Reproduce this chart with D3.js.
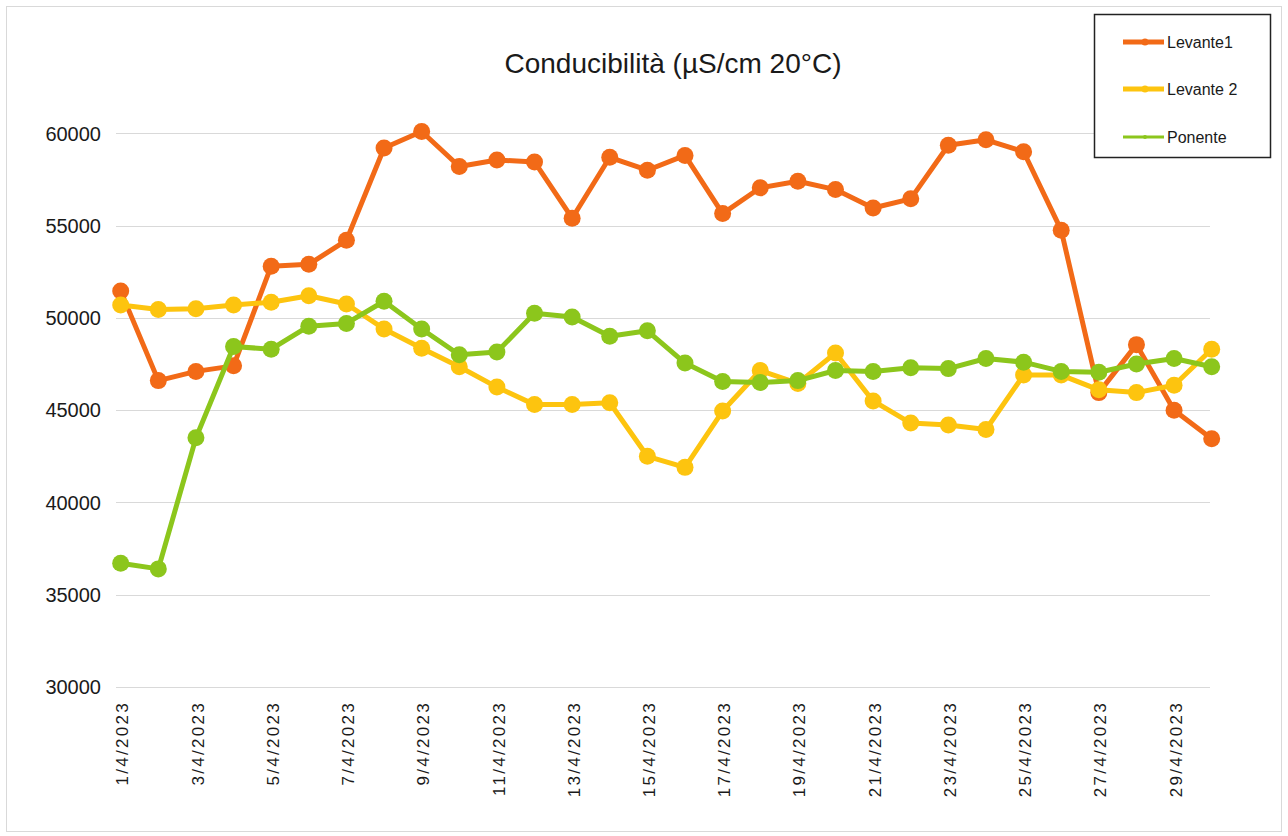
<!DOCTYPE html>
<html>
<head>
<meta charset="utf-8">
<script src="https://cdn.jsdelivr.net/npm/d3@7"></script>
<style>
  body { margin: 0; background: #fff; }
  text { font-family: "Liberation Sans", Arial, sans-serif; fill: #1a1a1a; }
</style>
</head>
<body>
<div id="myDiv"></div>
<script>
// data
var dates = ["1/4/2023","2/4/2023","3/4/2023","4/4/2023","5/4/2023","6/4/2023","7/4/2023","8/4/2023",
  "9/4/2023","10/4/2023","11/4/2023","12/4/2023","13/4/2023","14/4/2023","15/4/2023","16/4/2023",
  "17/4/2023","18/4/2023","19/4/2023","20/4/2023","21/4/2023","22/4/2023","23/4/2023","24/4/2023",
  "25/4/2023","26/4/2023","27/4/2023","28/4/2023","29/4/2023","30/4/2023"];

var levante1 = [51450, 46600, 47100, 47400, 52800, 52900, 54200, 59200, 60100, 58200,
  58550, 58450, 55400, 58700, 58000, 58800, 55650, 57050, 57400, 56950,
  55950, 56450, 59350, 59650, 59000, 54750, 45950, 48550, 45000, 43450];

var levante2 = [50700, 50450, 50500, 50700, 50850, 51200, 50750, 49400, 48350, 47350,
  46250, 45300, 45300, 45400, 42500, 41900, 44950, 47150, 46450, 48100,
  45500, 44300, 44200, 43950, 46900, 46900, 46100, 45950, 46350, 48300];

var ponente = [36700, 36400, 43500, 48450, 48300, 49550, 49700, 50900, 49400, 48000,
  48150, 50250, 50050, 49000, 49300, 47550, 46550, 46500, 46600, 47150,
  47100, 47300, 47250, 47800, 47600, 47100, 47050, 47500, 47800, 47350];

var seriesNames = ["Levante1", "Levante 2", "Ponente"];
var yTicks = [30000, 35000, 40000, 45000, 50000, 55000, 60000];

var colors = ["#f26a17", "#fdc40f", "#8cc61c"];

var width = 1288;
var height = 836;

var svg = d3.select("#myDiv")
    .append("svg")
    .attr("width", width)
    .attr("height", height);

// outer frame
svg.append("rect")
    .attr("x", 6.5).attr("y", 6.5)
    .attr("width", 1275).attr("height", 825)
    .attr("fill", "#fff")
    .attr("stroke", "#d9d9d9");

var x = d3.scalePoint()
    .domain(dates)
    .range([120.7, 1211.7]);

var y = d3.scaleLinear()
    .domain([30000, 60000])
    .range([687, 133.3]);

// gridlines
svg.append("g")
    .selectAll("line")
    .data(yTicks)
    .enter()
    .append("line")
    .attr("x1", 116)
    .attr("x2", 1210)
    .attr("y1", d => Math.round(y(d)) + 0.5)
    .attr("y2", d => Math.round(y(d)) + 0.5)
    .attr("stroke", "#d9d9d9")
    .attr("stroke-width", 1.2);

// y labels
svg.append("g")
    .selectAll("text")
    .data(yTicks)
    .enter()
    .append("text")
    .attr("x", 101)
    .attr("y", d => y(d))
    .attr("dy", "0.36em")
    .attr("text-anchor", "end")
    .style("font-size", "20px")
    .text(d => d);

// x labels, every other day
svg.append("g")
    .selectAll("text")
    .data(dates.filter((d, i) => i % 2 === 0))
    .enter()
    .append("text")
    .attr("transform", d => "translate(" + (x(d) + 1.5) + ",701) rotate(-90)")
    .attr("dy", "0.36em")
    .attr("text-anchor", "end")
    .style("font-size", "17px")
    .style("letter-spacing", "2.3px")
    .text(d => d);

// title
svg.append("text")
    .attr("x", 673)
    .attr("y", 73)
    .attr("text-anchor", "middle")
    .style("font-size", "28px")
    .text("Conducibilità (µS/cm 20°C)");

// lines + markers
var allSeries = [levante1, levante2, ponente];

var line = d3.line()
    .x((d, i) => x(dates[i]))
    .y(d => y(d));

allSeries.forEach(function(values, k) {
    var g = svg.append("g");
    g.append("path")
        .datum(values)
        .attr("d", line)
        .attr("fill", "none")
        .attr("stroke", colors[k])
        .attr("stroke-width", 5)
        .attr("stroke-linejoin", "round");
    g.selectAll("circle")
        .data(values)
        .enter()
        .append("circle")
        .attr("cx", (d, i) => x(dates[i]))
        .attr("cy", d => y(d))
        .attr("r", 8.5)
        .attr("fill", colors[k]);
});

// legend
var legend = svg.append("g");
legend.append("rect")
    .attr("x", 1094.5).attr("y", 14.5)
    .attr("width", 176).attr("height", 143)
    .attr("fill", "#fff")
    .attr("stroke", "#222")
    .attr("stroke-width", 1.5);

var legendY = [42, 89, 137];
var legendW = [5, 5, 3];
seriesNames.forEach(function(name, k) {
    legend.append("line")
        .attr("x1", 1123).attr("x2", 1164)
        .attr("y1", legendY[k]).attr("y2", legendY[k])
        .attr("stroke", colors[k])
        .attr("stroke-width", legendW[k]);
    legend.append("circle")
        .attr("cx", 1145).attr("cy", legendY[k])
        .attr("r", k < 2 ? 3.5 : 2)
        .attr("fill", colors[k]);
    legend.append("text")
        .attr("x", 1167)
        .attr("y", legendY[k])
        .attr("dy", "0.36em")
        .style("font-size", "16px")
        .text(name);
});
</script>
</body>
</html>
